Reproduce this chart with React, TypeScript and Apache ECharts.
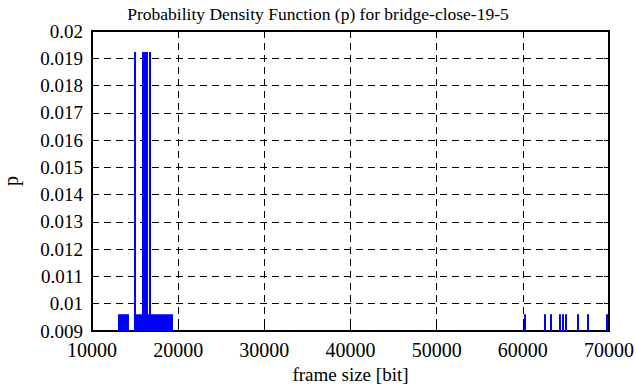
import React, { useEffect, useRef } from "react";
import * as echarts from "echarts";

// frame size [bit] ranges [from, to] and their probability
const P1 = 1 / 104;
const P2 = 2 / 104;
const lowBlocks: [number, number][] = [
  [13020, 14290],
  [14870, 19400],
];
const tallBars: [number, number][] = [
  [14874, 15106],
  [15802, 16499],
  [16615, 16847],
];
const rightSpikes: number[] = [60250, 62570, 63270, 64310, 64660, 65010, 66400, 67560, 69770];

const xTicks = [10000, 20000, 30000, 40000, 50000, 60000, 70000];

const FONT = "Times New Roman";

export default function App() {
  const ref = useRef<HTMLDivElement>(null);
  useEffect(() => {
    if (!ref.current) return;
    const chart = echarts.init(ref.current, undefined, { renderer: "svg" });
    const data: number[][] = [];
    lowBlocks.forEach(([a, b]) => data.push([a, b, P1]));
    tallBars.forEach(([a, b]) => data.push([a, b, P2]));
    rightSpikes.forEach((c) => data.push([c, c, P1]));

    const axisCommon = {
      axisLine: { show: false },
      axisTick: { show: true, inside: true, length: 5, lineStyle: { color: "#000", width: 1 } },
    };

    chart.setOption({
      animation: false,
      textStyle: { fontFamily: FONT },
      title: {
        text: "Probability Density Function (p) for bridge-close-19-5",
        left: "center",
        top: 0,
        textStyle: { fontFamily: FONT, fontSize: 17.5, fontWeight: "normal", color: "#000" },
      },
      grid: {
        left: 92,
        right: 27,
        top: 31,
        bottom: 56,
        show: true,
        borderColor: "#000",
        borderWidth: 2,
        backgroundColor: "transparent",
        containLabel: false,
        outerBoundsMode: "none",
      },
      xAxis: [
        {
          type: "value",
          min: xTicks[0],
          max: xTicks[xTicks.length - 1],
          interval: 10000,
          ...axisCommon,
          name: "frame size [bit]",
          nameLocation: "middle",
          nameGap: 33,
          nameTextStyle: { fontFamily: FONT, fontSize: 19, color: "#000" },
          axisLabel: {
            fontFamily: FONT,
            fontSize: 20,
            color: "#000",
            margin: 9,
            formatter: (v: number) => String(v),
          },
          splitLine: { show: true, lineStyle: { color: "#000", type: [7, 5], width: 1 } },
        },
        {
          type: "value",
          position: "top",
          min: xTicks[0],
          max: xTicks[xTicks.length - 1],
          interval: 10000,
          ...axisCommon,
          axisLabel: { show: false },
          splitLine: { show: false },
        },
      ],
      yAxis: [
        {
          type: "value",
          min: 0.009,
          max: 0.02,
          interval: 0.001,
          ...axisCommon,
          name: "p",
          nameLocation: "middle",
          nameGap: 71,
          nameRotate: 90,
          nameTextStyle: { fontFamily: FONT, fontSize: 20, color: "#000" },
          axisLabel: {
            fontFamily: FONT,
            fontSize: 19,
            color: "#000",
            margin: 9,
            formatter: (v: number) => String(+v.toFixed(3)),
          },
          splitLine: { show: true, lineStyle: { color: "#000", type: [7, 5], width: 1 } },
        },
        {
          type: "value",
          position: "right",
          min: 0.009,
          max: 0.02,
          interval: 0.001,
          ...axisCommon,
          axisLabel: { show: false },
          splitLine: { show: false },
        },
      ],
      series: [
        {
          type: "custom",
          xAxisIndex: 0,
          yAxisIndex: 0,
          encode: { x: [0, 1], y: 2 },
          data,
          renderItem: (params: any, api: any) => {
            const x0 = api.value(0);
            const x1 = api.value(1);
            const p = api.value(2);
            const a = api.coord([x0, p]);
            const b = api.coord([x1, 0.009]);
            let left = a[0];
            let w = b[0] - a[0];
            if (w < 2) {
              left = (a[0] + b[0]) / 2 - 1;
              w = 2;
            }
            return {
              type: "rect",
              shape: { x: left, y: a[1], width: w, height: b[1] - a[1] },
              style: { fill: "#0000ff" },
            };
          },
        },
      ],
    });
    return () => chart.dispose();
  }, []);
  return <div ref={ref} style={{ width: 636, height: 387, position: "absolute", left: 0, top: 0 }} />;
}
